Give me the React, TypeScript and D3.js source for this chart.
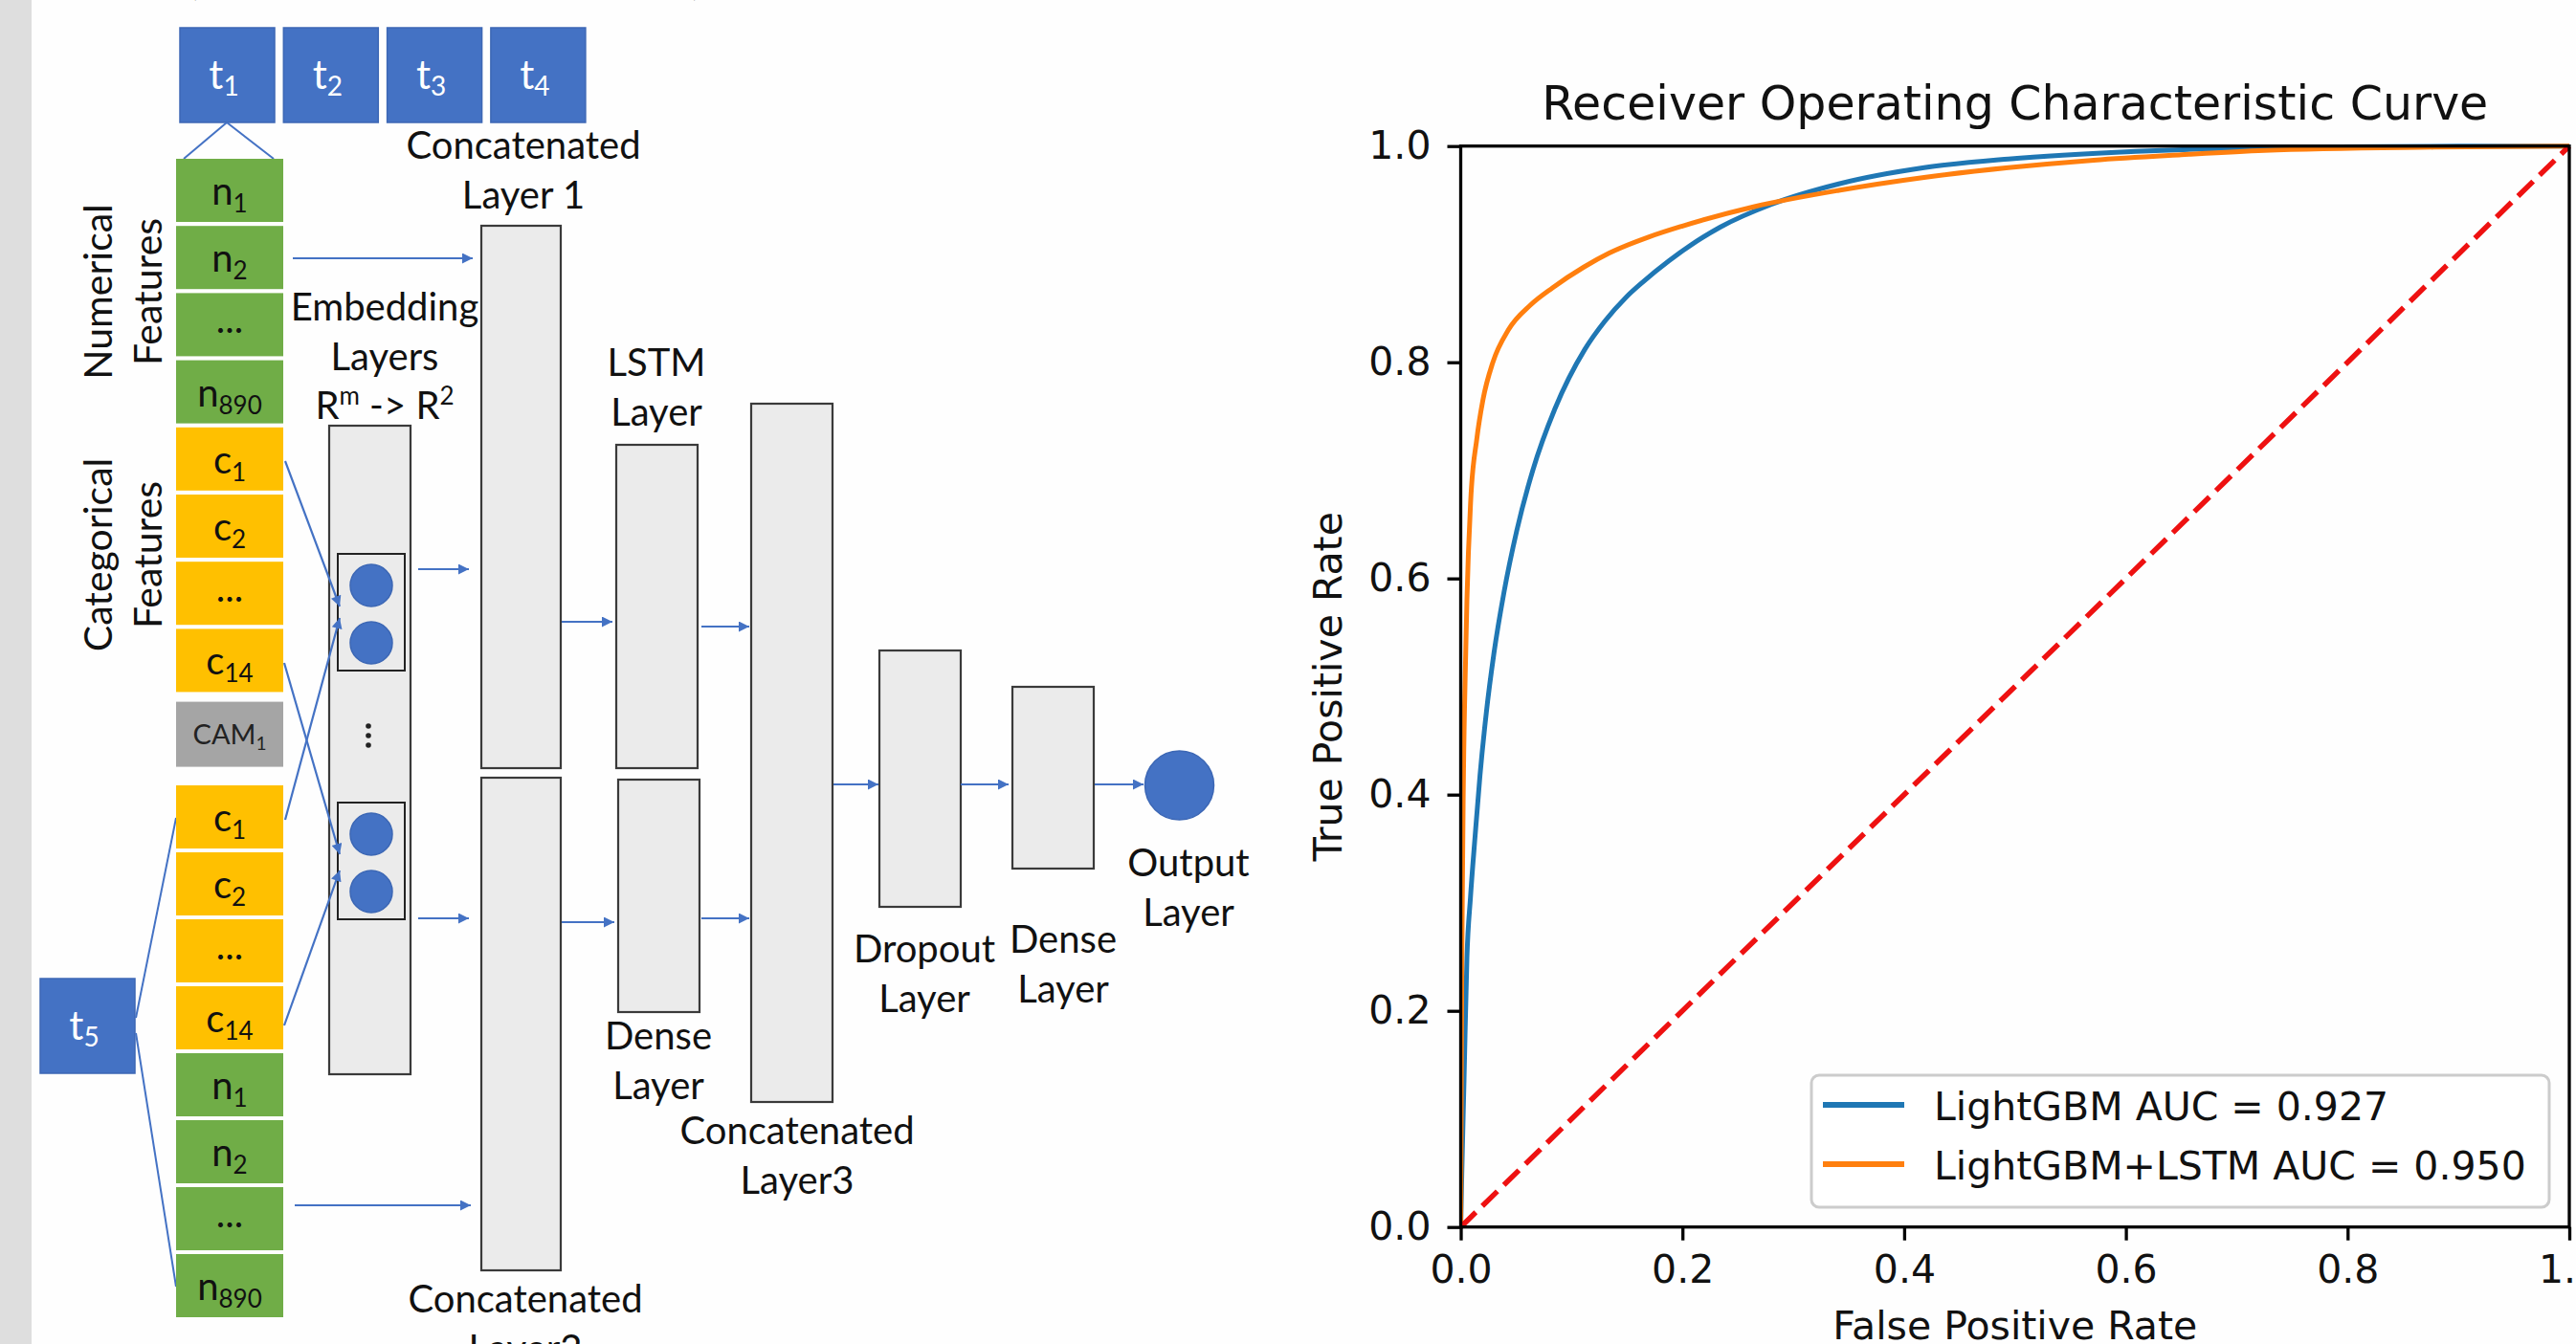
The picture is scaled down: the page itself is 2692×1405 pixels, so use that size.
import React, { useEffect, useRef } from "react";
import * as d3 from "d3";

// time step boxes
const topSteps = ["1", "2", "3", "4"];
const lastStep = "5";

// feature columns: [letter, subscript, kind]
const upperFeatures = [
  ["n", "1", "num"],
  ["n", "2", "num"],
  ["...", "", "num"],
  ["n", "890", "num"],
  ["c", "1", "cat"],
  ["c", "2", "cat"],
  ["...", "", "cat"],
  ["c", "14", "cat"],
  ["CAM", "1", "cam"],
];
const lowerFeatures = [
  ["c", "1", "cat"],
  ["c", "2", "cat"],
  ["...", "", "cat"],
  ["c", "14", "cat"],
  ["n", "1", "num"],
  ["n", "2", "num"],
  ["...", "", "num"],
  ["n", "890", "num"],
];

// ROC curves
const fprLightGBM = [0, 0.001, 0.003, 0.0056, 0.0088, 0.013, 0.0174, 0.023, 0.03, 0.039, 0.0505, 0.065, 0.085, 0.112, 0.13, 0.149, 0.164, 0.188, 0.234, 0.28, 0.341, 0.418, 0.494, 0.609, 0.75, 0.9, 1];
const tprLightGBM = [0, 0.05, 0.136, 0.249, 0.305, 0.362, 0.418, 0.475, 0.531, 0.587, 0.644, 0.7, 0.757, 0.812, 0.838, 0.86, 0.874, 0.894, 0.925, 0.946, 0.965, 0.98, 0.988, 0.995, 0.999, 1, 1];
const fprLstm = [0, 0.001, 0.0025, 0.0045, 0.0056, 0.009, 0.0145, 0.02, 0.029, 0.043, 0.063, 0.083, 0.111, 0.134, 0.17, 0.2, 0.265, 0.341, 0.418, 0.494, 0.571, 0.65, 0.725, 0.878, 1];
const tprLstm = [0, 0.25, 0.42, 0.53, 0.58, 0.672, 0.729, 0.765, 0.8, 0.83, 0.853, 0.869, 0.888, 0.901, 0.916, 0.926, 0.944, 0.959, 0.971, 0.98, 0.987, 0.992, 0.996, 0.999, 1];
const seriesNames = ["LightGBM AUC = 0.927", "LightGBM+LSTM AUC = 0.950"];
const axisTicks = [0, 0.2, 0.4, 0.6, 0.8, 1.0];

const W = 2692;
const H = 1405;
const BLUE = "#4472C4";
const FONT = "Lato, 'Open Sans', sans-serif";
const MPL = "'DejaVu Sans', sans-serif";

const kindColor = { num: "#70AD47", cat: "#FFC000", cam: "#A5A5A5" };

const plot = { left: 1526.5, right: 2685, top: 152.7, bottom: 1282.7 };

function Feature({ item, y }) {
  const [base, sub, kind] = item;
  const cam = kind === "cam";
  const h = cam ? 68 : 66;
  return (
    <g>
      <rect x={184} y={y} width={112} height={h} fill={kindColor[kind]} />
      <text
        x={240}
        y={y + (cam ? 44 : base === "..." ? 42 : 48)}
        textAnchor="middle"
        fontFamily={FONT}
        fontSize={cam ? 29 : 40}
        fill={cam ? "#222" : "#111"}
      >
        {base}
        {sub && (
          <tspan fontSize={cam ? 19 : 26} dy={cam ? 6 : 8}>
            {sub}
          </tspan>
        )}
      </text>
    </g>
  );
}

function Label({ x, y, lines, gap = 52 }) {
  return (
    <text textAnchor="middle" fontFamily={FONT} fontSize={40} fill="#111">
      {lines.map((l, i) => (
        <tspan key={i} x={x} y={y + i * gap}>
          {l}
        </tspan>
      ))}
    </text>
  );
}

function Arrow({ x1, y1, x2, y2 }) {
  return <line x1={x1} y1={y1} x2={x2} y2={y2} stroke={BLUE} strokeWidth={2.2} markerEnd="url(#arrow)" />;
}

function Layer({ x, y, w, h }) {
  return <rect x={x} y={y} width={w} height={h} fill="#EBEBEB" stroke="#3a3a3a" strokeWidth={2.2} />;
}

function StepBox({ x, y, sub }) {
  return (
    <g>
      <rect x={x} y={y} width={99} height={99} fill={BLUE} stroke="#3C67B5" strokeWidth={1.5} />
      <text x={x + 46} y={y + 64} textAnchor="middle" fontFamily={FONT} fontSize={42} fill="#fff">
        t
        <tspan fontSize={28} dy={7}>
          {sub}
        </tspan>
      </text>
    </g>
  );
}

export default function App() {
  const xAxisRef = useRef(null);
  const yAxisRef = useRef(null);

  const x = d3.scaleLinear().domain([0, 1]).range([plot.left, plot.right]);
  const y = d3.scaleLinear().domain([0, 1]).range([plot.bottom, plot.top]);

  const line = d3
    .line()
    .x((d) => x(d[0]))
    .y((d) => y(d[1]))
    .curve(d3.curveMonotoneX);

  const blueData = fprLightGBM.map((f, i) => [f, tprLightGBM[i]]);
  const orangeData = fprLstm.map((f, i) => [f, tprLstm[i]]);

  useEffect(() => {
    const fmt = d3.format(".1f");
    const xa = d3
      .select(xAxisRef.current)
      .call(d3.axisBottom(x).tickValues(axisTicks).tickFormat(fmt).tickSize(14).tickPadding(15));
    const ya = d3
      .select(yAxisRef.current)
      .call(d3.axisLeft(y).tickValues(axisTicks).tickFormat(fmt).tickSize(14).tickPadding(17));
    [xa, ya].forEach((g) => {
      g.select(".domain").remove();
      g.attr("font-family", MPL).attr("font-size", 41);
      g.selectAll("line").attr("stroke", "#000").attr("stroke-width", 3.3);
      g.selectAll("text").attr("fill", "#111");
    });
  }, []);

  // embedding column layout
  const upperY = (i, kind) => 166 + i * 70.2 + (kind === "cam" ? 6 : 0);
  const lowerY = (i) => 821 + i * 70;

  return (
    <svg width={W} height={H} style={{ position: "absolute", left: 0, top: 0, display: "block" }}>
      <defs>
        <marker id="arrow" viewBox="0 0 10 10" refX="10" refY="5" markerWidth="14" markerHeight="11" markerUnits="userSpaceOnUse" orient="auto">
          <path d="M0,0 L10,5 L0,10 z" fill={BLUE} />
        </marker>
        <clipPath id="plotClip">
          <rect x={plot.left} y={plot.top - 4} width={plot.right - plot.left + 4} height={plot.bottom - plot.top + 8} />
        </clipPath>
      </defs>
      <rect width={W} height={H} fill="#fefefe" />
      <rect width={33} height={H} fill="#dedede" />

      {/* cut-off text from above */}
      <text x={196} y={-6} fontFamily={FONT} fontSize={44} fill="#111">(</text>
      <text x={722} y={-6} fontFamily={FONT} fontSize={44} fill="#111">)</text>

      {/* ---------- network diagram ---------- */}
      {topSteps.map((s, i) => (
        <StepBox key={s} x={188 + i * 108.3} y={29} sub={s} />
      ))}
      <StepBox x={42} y={1023} sub={lastStep} />

      <line x1={237} y1={128} x2={192} y2={166} stroke={BLUE} strokeWidth={2} />
      <line x1={237} y1={128} x2={286} y2={166} stroke={BLUE} strokeWidth={2} />
      <line x1={142} y1={1064} x2={184} y2={855} stroke={BLUE} strokeWidth={2} />
      <line x1={142} y1={1080} x2={184} y2={1345} stroke={BLUE} strokeWidth={2} />

      {upperFeatures.map((f, i) => (
        <Feature key={"u" + i} item={f} y={upperY(i, f[2])} />
      ))}
      {lowerFeatures.map((f, i) => (
        <Feature key={"l" + i} item={f} y={lowerY(i)} />
      ))}

      {/* rotated group labels */}
      <g fontFamily={FONT} fontSize={41} fill="#111" textAnchor="middle">
        <text transform="translate(117,305) rotate(-90)">Numerical</text>
        <text transform="translate(169,305) rotate(-90)">Features</text>
        <text transform="translate(117,580) rotate(-90)">Categorical</text>
        <text transform="translate(169,580) rotate(-90)">Features</text>
      </g>

      {/* embedding layers */}
      <Layer x={344} y={445} w={85} h={678} />
      <rect x={353} y={579} width={70} height={122} fill="#EBEBEB" stroke="#222" strokeWidth={2} />
      <rect x={353} y={839} width={70} height={122} fill="#EBEBEB" stroke="#222" strokeWidth={2} />
      {[612, 672, 872, 932].map((cy) => (
        <circle key={cy} cx={388} cy={cy} r={22} fill={BLUE} stroke="#3C67B5" strokeWidth={1.5} />
      ))}
      {[759, 769, 779].map((cy) => (
        <circle key={cy} cx={385} cy={cy} r={2.8} fill="#222" />
      ))}

      <Arrow x1={298} y1={482} x2={355} y2={634} />
      <Arrow x1={298} y1={857} x2={355} y2={646} />
      <Arrow x1={297} y1={693} x2={355} y2={893} />
      <Arrow x1={297} y1={1072} x2={355} y2={910} />

      {/* concatenated layers */}
      <Layer x={503} y={236} w={83} h={567} />
      <Layer x={503} y={813} w={83} h={515} />
      <Layer x={644} y={465} w={85} h={338} />
      <Layer x={646} y={815} w={85} h={243} />
      <Layer x={785} y={422} w={85} h={730} />
      <Layer x={919} y={680} w={85} h={268} />
      <Layer x={1058} y={718} w={85} h={190} />
      <circle cx={1232.5} cy={821} r={36} fill={BLUE} stroke="#3C67B5" strokeWidth={1.5} />

      <Arrow x1={306} y1={270} x2={494} y2={270} />
      <Arrow x1={308} y1={1260} x2={492} y2={1260} />
      <Arrow x1={437} y1={595} x2={490} y2={595} />
      <Arrow x1={437} y1={960} x2={490} y2={960} />
      <Arrow x1={587} y1={650} x2={640} y2={650} />
      <Arrow x1={587} y1={964} x2={642} y2={964} />
      <Arrow x1={733} y1={655} x2={783} y2={655} />
      <Arrow x1={733} y1={960} x2={783} y2={960} />
      <Arrow x1={871} y1={820} x2={918} y2={820} />
      <Arrow x1={1004} y1={820} x2={1054} y2={820} />
      <Arrow x1={1144} y1={820} x2={1195} y2={820} />

      <Label x={402} y={335} lines={["Embedding", "Layers"]} />
      <text x={402} y={438} textAnchor="middle" fontFamily={FONT} fontSize={40} fill="#111">
        R<tspan fontSize={26} dy={-15}>m</tspan>
        <tspan dy={15}> -&gt; R</tspan>
        <tspan fontSize={26} dy={-15}>2</tspan>
      </text>
      <Label x={547} y={166} lines={["Concatenated", "Layer 1"]} />
      <Label x={686} y={393} lines={["LSTM", "Layer"]} />
      <Label x={688} y={1097} lines={["Dense", "Layer"]} />
      <Label x={833} y={1196} lines={["Concatenated", "Layer3"]} />
      <Label x={966} y={1006} lines={["Dropout", "Layer"]} />
      <Label x={1111} y={996} lines={["Dense", "Layer"]} />
      <Label x={1242} y={916} lines={["Output", "Layer"]} />
      <Label x={549} y={1372} lines={["Concatenated", "Layer2"]} />

      {/* ---------- ROC chart ---------- */}
      <text x={(plot.left + plot.right) / 2} y={125} textAnchor="middle" fontFamily={MPL} fontSize={49} fill="#111">
        Receiver Operating Characteristic Curve
      </text>

      <g clipPath="url(#plotClip)">
        <path d={line(blueData)} fill="none" stroke="#1f77b4" strokeWidth={5} />
        <path d={line(orangeData)} fill="none" stroke="#ff7f0e" strokeWidth={5} />
        <line x1={x(0)} y1={y(0)} x2={x(1)} y2={y(1)} stroke="#ee1111" strokeWidth={5.5} strokeDasharray="22,9.5" />
      </g>

      <rect
        x={plot.left}
        y={plot.top}
        width={plot.right - plot.left}
        height={plot.bottom - plot.top}
        fill="none"
        stroke="#000"
        strokeWidth={3.3}
      />
      <g ref={xAxisRef} transform={`translate(0,${plot.bottom})`} />
      <g ref={yAxisRef} transform={`translate(${plot.left},0)`} />

      <text x={(plot.left + plot.right) / 2} y={1400} textAnchor="middle" fontFamily={MPL} fontSize={41} fill="#111">
        False Positive Rate
      </text>
      <text
        transform={`translate(1402,${(plot.top + plot.bottom) / 2}) rotate(-90)`}
        textAnchor="middle"
        fontFamily={MPL}
        fontSize={41}
        fill="#111"
      >
        True Positive Rate
      </text>

      {/* legend */}
      <rect x={1893} y={1124} width={771} height={138} rx={8} fill="#fff" fillOpacity={0.8} stroke="#cccccc" strokeWidth={3} />
      {seriesNames.map((name, i) => (
        <g key={name}>
          <line x1={1905} x2={1990} y1={1155 + i * 62} y2={1155 + i * 62} stroke={i === 0 ? "#1f77b4" : "#ff7f0e"} strokeWidth={6} />
          <text x={2021} y={1171 + i * 62} fontFamily={MPL} fontSize={41} fill="#111">
            {name}
          </text>
        </g>
      ))}
    </svg>
  );
}
